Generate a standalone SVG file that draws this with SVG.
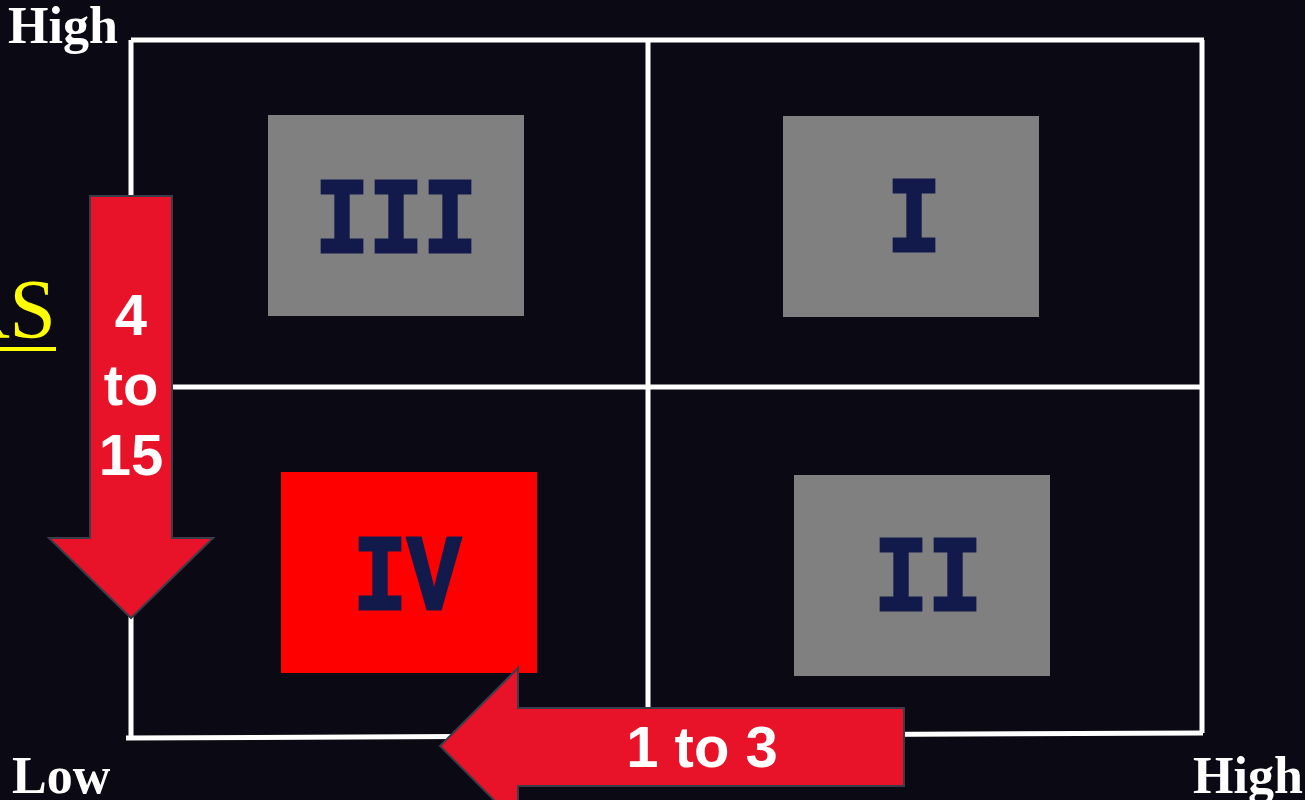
<svg xmlns="http://www.w3.org/2000/svg" width="1305" height="800" viewBox="0 0 1305 800">
<style>
.grid{stroke:#ffffff;stroke-width:5;fill:none}
.box{fill:#808080}
.num{font-family:"Liberation Mono","Courier New",monospace;font-weight:bold;font-size:90px;fill:#121a4c;stroke:#121a4c;stroke-width:2.5;text-anchor:middle}
.axis{font-family:"Liberation Serif","Times New Roman",serif;font-weight:bold;font-size:52px;fill:#ffffff}
.arrow{fill:#e81329;stroke:#3c3c48;stroke-width:2}
.atext{font-family:"Liberation Sans",Arial,sans-serif;font-weight:bold;font-size:58px;fill:#ffffff;text-anchor:middle}
</style>
<rect width="1305" height="800" fill="#0b0a14"/>
<g id="grid">
<line class="grid" x1="131" y1="40" x2="1204" y2="40"/>
<line class="grid" x1="131" y1="40" x2="131" y2="738"/>
<line class="grid" x1="1202" y1="40" x2="1202" y2="733"/>
<line class="grid" x1="126" y1="738" x2="1203" y2="733"/>
<line class="grid" x1="648" y1="40" x2="648" y2="736"/>
<line class="grid" x1="131" y1="387" x2="1200" y2="387"/>
</g>
<g id="labels">
<text class="axis" x="8" y="43">High</text>
<text class="axis" x="12" y="793">Low</text>
<text class="axis" x="1193" y="793">High</text>
<text x="56" y="338" text-anchor="end" font-family="'Liberation Serif','Times New Roman',serif" font-size="84" fill="#ffff00">RS</text>
<rect x="0" y="347" width="56" height="4" fill="#ffff00"/>
</g>
<g id="q3">
<rect class="box" x="268" y="115" width="256" height="201"/>
<text class="num" transform="translate(396,252) scale(1,1.2)">III</text>
</g>
<g id="q1">
<rect class="box" x="783" y="116" width="256" height="201"/>
<text class="num" transform="translate(914,251) scale(1,1.2)">I</text>
</g>
<g id="q4">
<rect x="281" y="472" width="256" height="201" fill="#ff0000"/>
<text class="num" transform="translate(407,609) scale(1,1.2)">IV</text>
</g>
<g id="q2">
<rect class="box" x="794" y="475" width="256" height="201"/>
<text class="num" transform="translate(928,610) scale(1,1.2)">II</text>
</g>
<g id="connectors">
<g id="arrow-down">
<polygon class="arrow" points="90,196 172,196 172,538 213,538 131,618 49,538 90,538"/>
<text class="atext" x="131" y="335">4</text>
<text class="atext" x="131" y="405">to</text>
<text class="atext" x="131" y="475">15</text>
</g>
<g id="arrow-left">
<polygon class="arrow" points="904,708 518,708 518,668 440,746 518,824 518,786 904,786"/>
<text class="atext" x="702" y="767">1 to 3</text>
</g>
</g>
</svg>
